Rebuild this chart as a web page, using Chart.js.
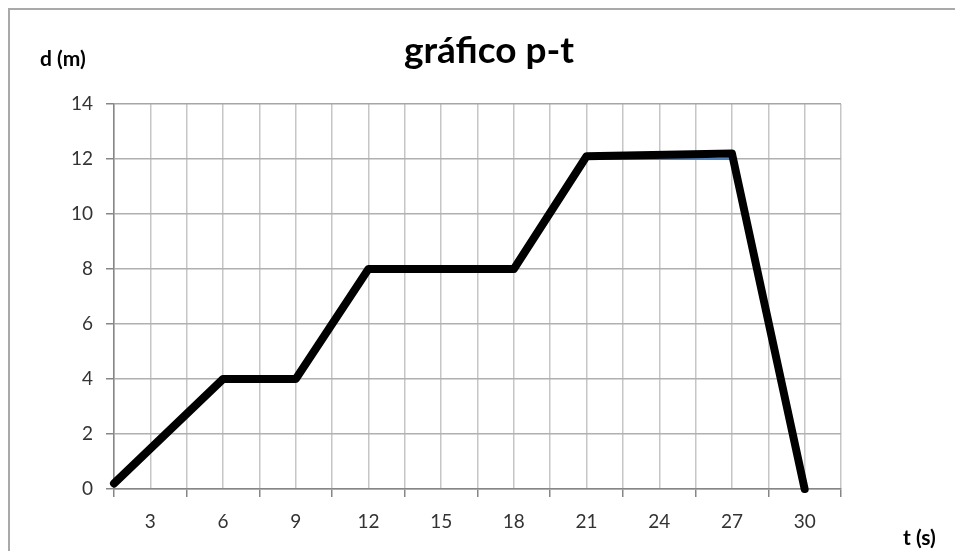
<!DOCTYPE html>
<html><head><meta charset="utf-8">
<script src="https://cdn.jsdelivr.net/npm/chart.js@4"></script>
<style>
html,body{margin:0;padding:0;background:#fff;overflow:hidden}
#wrap{position:relative;width:955px;height:551px;overflow:hidden}
#frame{position:absolute;left:8px;top:8px;width:1100px;height:1100px;border-left:2px solid #a9a9a9;border-top:2px solid #a9a9a9}
canvas{position:absolute;left:0;top:0}
</style></head><body>
<div id="wrap"><div id="frame"></div><canvas id="c" width="955" height="551"></canvas></div>
<script>
// ---- data ----
const chartTitle = 'gráfico p-t';
const yAxisTitle = 'd (m)';
const xAxisTitle = 't (s)';
const timeValues = [1.5, 6, 9, 12, 18, 21, 27, 30];
const distanceValues = [0.2, 4, 4, 8, 8, 12.1, 12.2, 0];
const guideTimes = [21, 27];
const guideDistances = [12, 12];
const xMin = 1.5, xMax = 31.5, xStep = 1.5, xLabelStep = 3;
const yMin = 0, yMax = 14, yStep = 2;

const FONT = 'Lato, "Open Sans", sans-serif';
const isLabel = v => Math.abs(v / xLabelStep - Math.round(v / xLabelStep)) < 1e-6;

const textPlugin = {
  id: 'texts',
  afterDraw(chart) {
    const ctx = chart.ctx;
    ctx.save();
    ctx.fillStyle = '#000';
    ctx.textBaseline = 'alphabetic';
    ctx.font = 'bold 37px ' + FONT;
    ctx.textAlign = 'center';
    ctx.fillText(chartTitle, 489, 63);
    ctx.font = 'bold 21px ' + FONT;
    ctx.textAlign = 'left';
    ctx.fillText(yAxisTitle, 40, 66);
    ctx.fillText(xAxisTitle, 903, 545);
    ctx.restore();
  }
};

new Chart(document.getElementById('c'), {
  type: 'scatter',
  data: {
    datasets: [
      {
        data: timeValues.map((t, i) => ({x: t, y: distanceValues[i]})),
        showLine: true,
        borderColor: '#000',
        borderWidth: 8,
        borderJoinStyle: 'round',
        borderCapStyle: 'round',
        pointRadius: 0,
        pointHoverRadius: 0,
        tension: 0,
        clip: false,
        order: 0
      },
      {
        data: guideTimes.map((t, i) => ({x: t, y: guideDistances[i]})),
        showLine: true,
        borderColor: '#4f81bd',
        borderWidth: 2,
        pointRadius: 0,
        tension: 0,
        order: 1
      }
    ]
  },
  options: {
    responsive: false,
    animation: false,
    layout: {padding: {left: 0, right: 114, top: 104, bottom: 0}},
    plugins: {legend: {display: false}, title: {display: false}, tooltip: {enabled: false}},
    scales: {
      x: {
        type: 'linear',
        min: xMin, max: xMax,
        afterFit(s) { s.height = 62; },
        border: {display: true, color: '#868686', width: 1.5},
        grid: {
          color: '#c6c6c6',
          lineWidth: 1.5,
          tickLength: 8,
          tickColor: c => isLabel(c.tick.value) ? 'rgba(0,0,0,0)' : '#868686',
          tickWidth: 1.5
        },
        ticks: {
          stepSize: xStep,
          autoSkip: false,
          maxRotation: 0,
          padding: 13,
          color: '#333333',
          font: {family: FONT, size: 19},
          callback: v => isLabel(v) ? String(Math.round(v)) : ''
        }
      },
      y: {
        min: yMin, max: yMax,
        afterFit(s) { s.width = 114; },
        border: {display: true, color: '#868686', width: 1.5},
        grid: {
          color: c => c.tick.value === yMax ? '#a6a6a6' : '#b0b0b0',
          lineWidth: 1.5,
          tickLength: 8,
          tickColor: '#868686',
          tickWidth: 1.5
        },
        ticks: {
          stepSize: yStep,
          padding: 13,
          color: '#333333',
          font: {family: FONT, size: 19}
        }
      }
    }
  },
  plugins: [textPlugin]
});
</script>
</body></html>
